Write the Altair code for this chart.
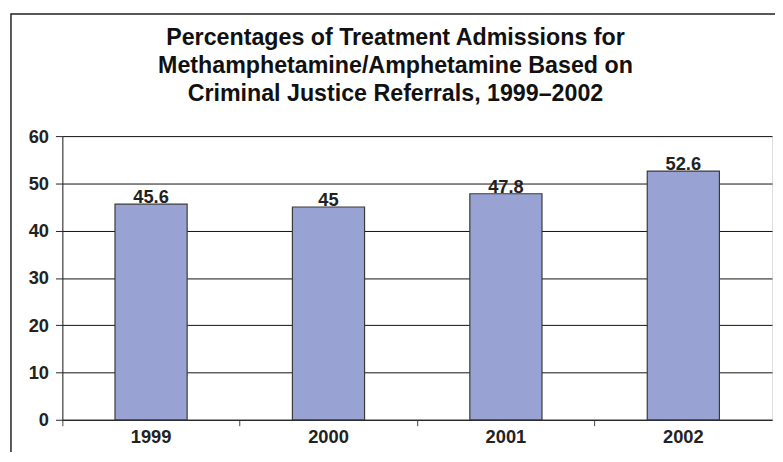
import altair as alt
import pandas as pd

years = ["1999", "2000", "2001", "2002"]
values = [45.6, 45.0, 47.8, 52.6]
value_labels = ["45.6", "45", "47.8", "52.6"]
y_ticks = [0, 10, 20, 30, 40, 50, 60]
title_lines = [
    "Percentages of Treatment Admissions for",
    "Methamphetamine/Amphetamine Based on",
    "Criminal Justice Referrals, 1999\u20132002",
]

df = pd.DataFrame({"year": years, "value": values, "label": value_labels})

W, H = 718, 287
FONT = "Liberation Sans"

x_enc = alt.X(
    "year:N",
    sort=years,
    scale=alt.Scale(paddingInner=0, paddingOuter=0),
    axis=alt.Axis(
        title=None,
        labelAngle=0,
        bandPosition=0,
        labelFont=FONT,
        labelFontSize=18.5,
        labelFontWeight="bold",
        labelColor="#222222",
        labelPadding=2,
        tickSize=6,
        tickColor="#444444",
        tickWidth=1,
        domainColor="#222222",
        grid=False,
    ),
)
y_enc = alt.Y(
    "value:Q",
    scale=alt.Scale(domain=[0, 60], nice=False),
    axis=alt.Axis(
        title=None,
        values=y_ticks,
        labelFont=FONT,
        labelFontSize=18.5,
        labelFontWeight="bold",
        labelColor="#222222",
        labelPadding=7,
        tickSize=7,
        tickColor="#222222",
        domainColor="#222222",
        gridColor="#111111",
        gridOpacity=1,
        gridWidth=1,
    ),
)

bars = alt.Chart(df).mark_bar(
    size=73, color="#99A3D3", stroke="#3a3a3a", strokeWidth=1.2
).encode(x=x_enc, y=y_enc)

texts = alt.Chart(df).mark_text(
    dy=-7, font=FONT, fontSize=18.5, fontWeight="bold", color="#222222"
).encode(x=alt.X("year:N", sort=years), y="value:Q", text="label:N")

single = pd.DataFrame({"a": [0]})

frame = alt.Chart(single).mark_rect(
    fill=None, stroke="#222222", strokeWidth=1.5
).encode(
    x=alt.value(-52), x2=alt.value(W + 80),
    y=alt.value(-123.5), y2=alt.value(H + 80),
)

title = alt.Chart(single).mark_text(
    text=title_lines,
    font=FONT,
    fontSize=23.5,
    fontWeight="bold",
    color="#111111",
    align="center",
    baseline="alphabetic",
    lineHeight=28,
).encode(x=alt.value(W / 2 - 22), y=alt.value(-92))

chart = alt.layer(frame, bars, texts, title).properties(
    width=W,
    height=H,
    autosize=alt.AutoSizeParams(type="none"),
    padding={"left": 55, "top": 127, "right": 3, "bottom": 30},
).configure_view(
    stroke="#222222", strokeWidth=1.2
).configure(
    background="white"
)

chart.save("out.html", embed_options={"renderer": "svg", "actions": False})
